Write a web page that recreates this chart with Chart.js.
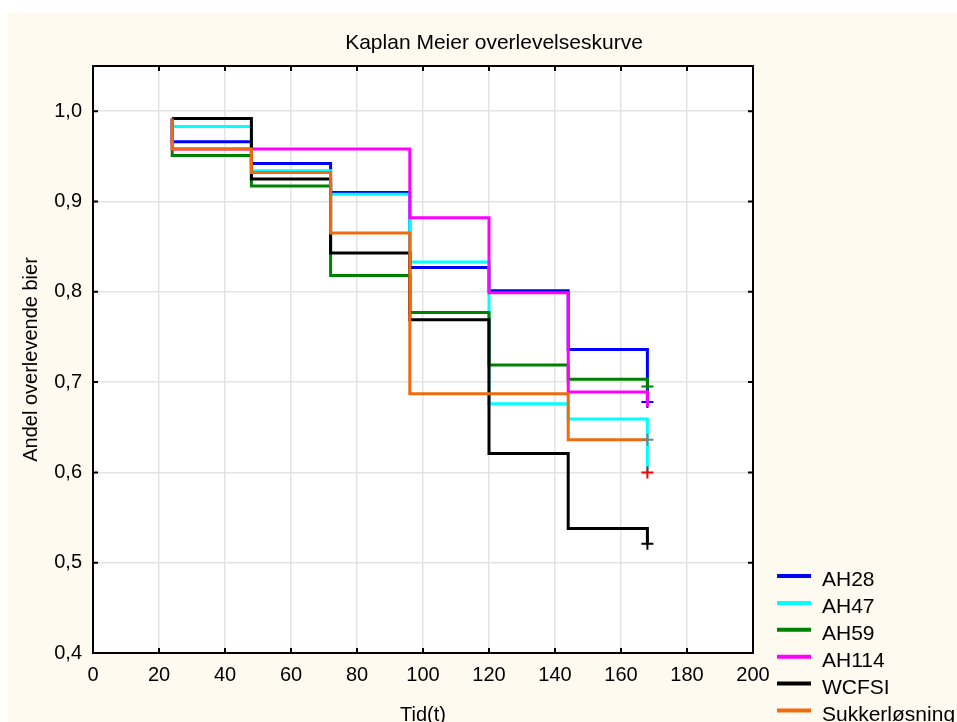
<!DOCTYPE html>
<html>
<head>
<meta charset="utf-8">
<title>Kaplan Meier overlevelseskurve</title>
<script src="https://cdn.jsdelivr.net/npm/chart.js@4/dist/chart.umd.min.js"></script>
<style>
  html, body { margin: 0; padding: 0; background: #ffffff; }
  canvas { display: block; }
</style>
</head>
<body>
<canvas id="km" width="957" height="722"></canvas>
<script>
// Texts
const chartTitle = 'Kaplan Meier overlevelseskurve';
const xAxisTitle = 'Tid(t)';
const yAxisTitle = 'Andel overlevende bier';

// Observation times (hours); the first entry is the starting level at t = 24
const timePoints = [24, 24, 48, 72, 96, 120, 144, 168];

// Survival proportion per group at each time point
const seriesNames = ['AH28', 'AH47', 'AH59', 'AH114', 'WCFSI', 'Sukkerløsning'];
const survAH28  = [0.992, 0.966, 0.942, 0.910, 0.827, 0.801, 0.736, 0.678];
const survAH47  = [0.992, 0.983, 0.934, 0.908, 0.833, 0.676, 0.659, 0.600];
const survAH59  = [0.992, 0.951, 0.917, 0.818, 0.777, 0.719, 0.703, 0.695];
const survAH114 = [0.992, 0.958, 0.958, 0.958, 0.882, 0.799, 0.689, 0.673];
const survWCFSI = [0.992, 0.992, 0.925, 0.843, 0.769, 0.621, 0.538, 0.521];
const survSukker = [0.992, 0.958, 0.932, 0.865, 0.687, 0.687, 0.636, 0.636];
const seriesValues = [survAH28, survAH47, survAH59, survAH114, survWCFSI, survSukker];

// Axis ticks
const xTickValues = [0, 20, 40, 60, 80, 100, 120, 140, 160, 180, 200];
const yTickValues = [0.4, 0.5, 0.6, 0.7, 0.8, 0.9, 1.0];

// Styling
const lineColors   = ['#0000ff', '#00ffff', '#008000', '#ff00ff', '#000000', '#f06a10'];
const censorColors = ['#0000ff', '#ff0000', '#008000', null, '#000000', '#808080'];
const stackOrder   = [5, 4, 3, 2, 1, 0];   // lower value is painted on top
const FONT = "'Liberation Sans', Arial, Helvetica, sans-serif";

const datasets = seriesNames.map((name, s) => {
  const vals = seriesValues[s];
  const last = vals.length - 1;
  return {
    label: name,
    data: timePoints.map((t, i) => ({ x: t, y: vals[i] })),
    borderColor: lineColors[s],
    backgroundColor: lineColors[s],
    borderWidth: 3,
    stepped: 'before',
    tension: 0,
    fill: false,
    order: stackOrder[s],
    pointStyle: 'cross',
    pointRadius: ctx => (ctx.dataIndex === last && censorColors[s]) ? 6 : 0,
    pointBorderColor: censorColors[s] || lineColors[s],
    pointBorderWidth: 2,
    pointHoverRadius: 0
  };
});

// Panel background, white plotting area
const panelPlugin = {
  id: 'panel',
  beforeDraw(chart) {
    const { ctx, chartArea: a } = chart;
    ctx.save();
    ctx.fillStyle = '#ffffff';
    ctx.fillRect(0, 0, chart.width, chart.height);
    ctx.fillStyle = '#fffaf0';
    ctx.fillRect(8, 13, chart.width - 8, chart.height - 13);
    ctx.fillStyle = '#ffffff';
    ctx.fillRect(a.left, a.top, a.right - a.left, a.bottom - a.top);
    ctx.restore();
  }
};

// Frame with inward ticks, heading and legend
const framePlugin = {
  id: 'frame',
  afterDraw(chart) {
    const { ctx, chartArea: a, scales } = chart;
    ctx.save();
    ctx.strokeStyle = '#000000';
    ctx.lineWidth = 2;
    ctx.strokeRect(a.left, a.top, a.right - a.left, a.bottom - a.top);
    const tl = 5;
    ctx.beginPath();
    scales.x.ticks.forEach(t => {
      const px = scales.x.getPixelForValue(t.value);
      ctx.moveTo(px, a.bottom); ctx.lineTo(px, a.bottom - tl);
      ctx.moveTo(px, a.top); ctx.lineTo(px, a.top + tl);
    });
    scales.y.ticks.forEach(t => {
      const py = scales.y.getPixelForValue(t.value);
      ctx.moveTo(a.left, py); ctx.lineTo(a.left + tl, py);
      ctx.moveTo(a.right, py); ctx.lineTo(a.right - tl, py);
    });
    ctx.stroke();

    // heading
    ctx.fillStyle = '#000000';
    ctx.font = '21px ' + FONT;
    ctx.textAlign = 'center';
    ctx.textBaseline = 'alphabetic';
    ctx.fillText(chartTitle, 494, 49);

    // legend
    const lx = 777, lw = 34, ly0 = 576, dy = 26.9;
    ctx.textAlign = 'left';
    ctx.font = '21px ' + FONT;
    chart.data.datasets.forEach((ds, i) => {
      const y = ly0 + i * dy;
      ctx.strokeStyle = ds.borderColor;
      ctx.lineWidth = 4;
      ctx.beginPath();
      ctx.moveTo(lx, y); ctx.lineTo(lx + lw, y);
      ctx.stroke();
      ctx.fillStyle = '#000000';
      ctx.fillText(ds.label, 822, y + 10);
    });
    ctx.restore();
  }
};

new Chart(document.getElementById('km'), {
  type: 'line',
  data: { datasets },
  options: {
    responsive: false,
    animation: false,
    events: [],
    devicePixelRatio: 1,
    layout: { padding: { top: 66, right: 204, left: 0, bottom: 0 } },
    plugins: {
      legend: { display: false },
      title: { display: false },
      tooltip: { enabled: false }
    },
    scales: {
      x: {
        type: 'linear',
        min: xTickValues[0],
        max: xTickValues[xTickValues.length - 1],
        afterBuildTicks: s => { s.ticks = xTickValues.map(v => ({ value: v })); },
        afterFit: s => { s.height = 69; },
        grid: { color: '#e4e4e4', lineWidth: 1.5, drawTicks: false },
        border: { display: false },
        ticks: {
          padding: 10,
          color: '#000000',
          font: { family: FONT, size: 20 },
          maxRotation: 0,
          autoSkip: false
        },
        title: {
          display: true,
          text: xAxisTitle,
          color: '#000000',
          font: { family: FONT, size: 20 },
          padding: { top: 0, bottom: -5 }
        }
      },
      y: {
        type: 'linear',
        min: yTickValues[0],
        max: 1.05,
        afterBuildTicks: s => { s.ticks = yTickValues.map(v => ({ value: v })); },
        afterFit: s => { s.width = 93; },
        grid: { color: '#e4e4e4', lineWidth: 1.5, drawTicks: false },
        border: { display: false },
        ticks: {
          padding: 11,
          color: '#000000',
          font: { family: FONT, size: 20 },
          callback: v => v.toFixed(1).replace('.', ',')
        },
        title: {
          display: true,
          text: yAxisTitle,
          color: '#000000',
          font: { family: FONT, size: 20 },
          padding: { top: 19, bottom: 0 }
        }
      }
    }
  },
  plugins: [panelPlugin, framePlugin]
});
</script>
</body>
</html>
